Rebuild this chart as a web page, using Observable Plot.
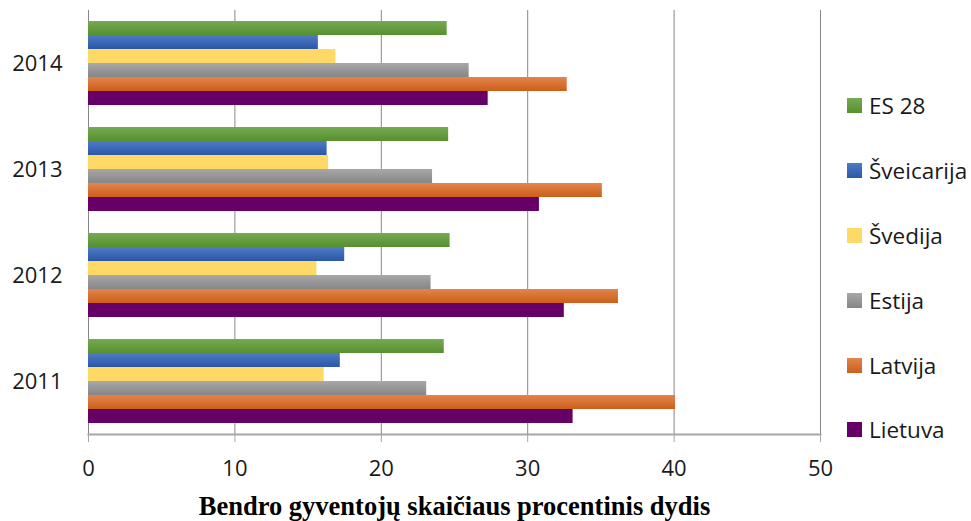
<!DOCTYPE html>
<html><head><meta charset="utf-8">
<script src="https://cdn.jsdelivr.net/npm/d3@7"></script>
<script src="https://cdn.jsdelivr.net/npm/@observablehq/plot@0.6"></script>
<style>
body{margin:0;background:#fff;}
#wrap{position:relative;width:971px;height:521px;overflow:hidden;}
#legend{position:absolute;left:847px;top:73.6px;font-family:"Open Sans",sans-serif;font-size:22.5px;color:#1a1a1a;}
#legend .item{height:64.8px;display:flex;align-items:center;white-space:nowrap;}
#legend .sw{width:15px;height:15px;margin-right:7px;flex:none;}
</style></head><body><div id="wrap"></div>
<script>
const years = ["2014", "2013", "2012", "2011"];
const series = ["ES 28", "Šveicarija", "Švedija", "Estija", "Latvija", "Lietuva"];
const topColors = ["#77aa53", "#4f7ac6", "#ffd966", "#a8a8a8", "#e2854f", "#660066"];
const bottomColors = ["#56902e", "#2a58a6", "#ffd966", "#868686", "#cd5e17", "#660066"];
// values per year, in order of `years`
const es28 = [24.5, 24.6, 24.7, 24.3];
const sveicarija = [15.7, 16.3, 17.5, 17.2];
const svedija = [16.9, 16.4, 15.6, 16.1];
const estija = [26.0, 23.5, 23.4, 23.1];
const latvija = [32.7, 35.1, 36.2, 40.1];
const lietuva = [27.3, 30.8, 32.5, 33.1];
const xTicks = [0, 10, 20, 30, 40, 50];
const xTitle = "Bendro gyventojų skaičiaus procentinis dydis";

const valuesBySeries = [es28, sveicarija, svedija, estija, latvija, lietuva];
const data = [];
years.forEach((year, yi) => series.forEach((s, si) => data.push({year, series: s, value: valuesBySeries[si][yi]})));

const chart = Plot.plot({
  width: 971, height: 521,
  marginLeft: 88, marginRight: 151, marginTop: 9, marginBottom: 87,
  style: {fontFamily: "Open Sans", fontSize: "22px", color: "#1a1a1a", background: "#fff"},
  x: {domain: [0, 50]},
  fy: {domain: years, padding: 0, axis: "left", tickSize: 0, tickPadding: 26, label: null},
  y: {domain: series, paddingInner: 0, paddingOuter: 0.75, axis: null},
  color: {domain: series, range: series.map((_, i) => `url(#g${i})`)},
  marks: [
    Plot.ruleX(xTicks, {stroke: "#878787", strokeWidth: 1}),
    Plot.barX(data, {x: "value", y: "series", fy: "year", fill: "series"}),
    Plot.axisX({ticks: xTicks, tickSize: 8, tickPadding: 18, stroke: "#a6a6a6", fill: "#1a1a1a", label: null, fontSize: 22}),
    Plot.axisX({ticks: [], tickSize: 0, label: xTitle, labelAnchor: "center", labelArrow: "none", labelOffset: 80,
      fontFamily: "Liberation Serif", fontWeight: "bold", fontSize: 26.5, fill: "#000"}),
    Plot.frame({anchor: "bottom", facetAnchor: "bottom", stroke: "#a6a6a6", strokeWidth: 2})
  ]
});

const defs = d3.select(chart).insert("defs", ":first-child");
series.forEach((_, i) => {
  const g = defs.append("linearGradient").attr("id", `g${i}`).attr("x1", 0).attr("y1", 0).attr("x2", 0).attr("y2", 1);
  g.append("stop").attr("offset", "0%").attr("stop-color", topColors[i]);
  g.append("stop").attr("offset", "100%").attr("stop-color", bottomColors[i]);
});

const wrap = document.getElementById("wrap");
wrap.appendChild(chart);
const legend = d3.select(wrap).append("div").attr("id", "legend");
const items = legend.selectAll(".item").data(series).join("div").attr("class", "item");
items.append("div").attr("class", "sw").style("background", (d, i) => `linear-gradient(${topColors[i]}, ${bottomColors[i]})`);
items.append("span").text(d => d);
</script>
</body></html>
